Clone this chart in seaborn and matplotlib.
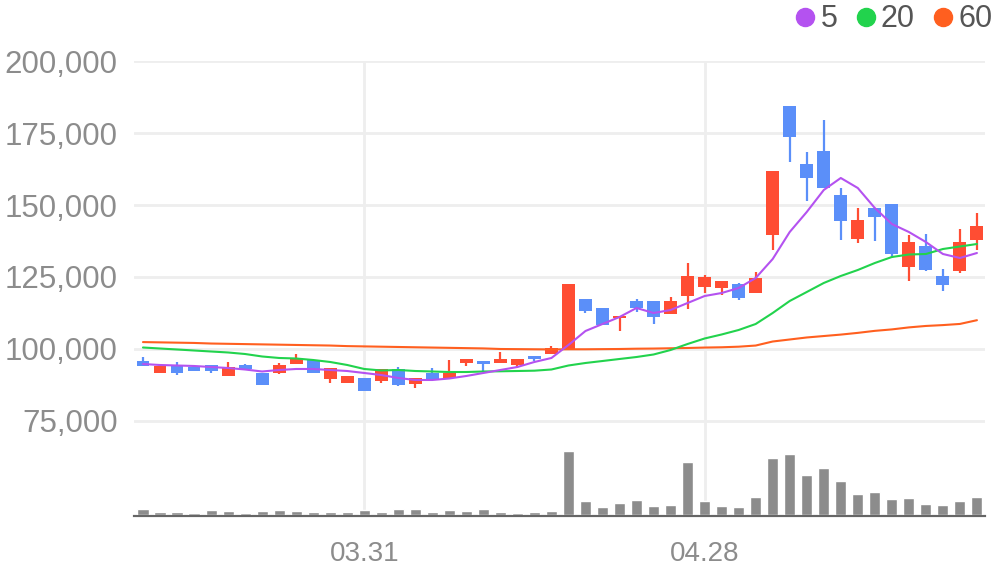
import numpy as np
import pandas as pd
import matplotlib.pyplot as plt
from matplotlib.lines import Line2D
import seaborn as sns

# 50 trading days, tick labels only on 03.31 and 04.28
dates = pd.bdate_range('2025-03-12', periods=50).strftime('%m.%d')

opens = [95840, 91670, 94100, 93750, 94400, 90630, 94400, 91670, 91670, 94800,
         96180, 89580, 88190, 89930, 88890, 93060, 87850, 91670, 89930, 95140,
         95830, 95140, 94400, 97570, 98270, 100000, 117360, 114240, 110760, 116670,
         116670, 112150, 118400, 121530, 121180, 122570, 119440, 139580, 184380, 164240,
         168750, 153470, 138200, 148960, 150350, 128470, 135760, 125350, 127080, 137850]
closes = [94100, 94100, 91670, 92370, 92370, 93750, 93060, 87500, 94400, 96530,
          91670, 93400, 90630, 85420, 93060, 87500, 89930, 89240, 91670, 96530,
          94800, 96530, 96530, 96530, 100350, 122570, 113200, 108330, 111460, 114240,
          111110, 116670, 125350, 125000, 123610, 117710, 124650, 161810, 173610, 159380,
          155900, 144440, 144790, 145830, 132990, 137150, 127430, 122220, 137150, 142710]
highs = [97230, 94400, 95500, 93750, 94400, 95500, 94800, 91670, 95100, 98270,
         96180, 93400, 90630, 89930, 93060, 93750, 89930, 93400, 96180, 96530,
         95830, 98960, 96530, 97570, 101040, 122570, 117360, 114240, 111460, 117360,
         116670, 118060, 129860, 125690, 123610, 122920, 126740, 161810, 184380, 168400,
         179510, 155900, 148960, 148960, 150350, 139580, 139930, 127780, 141670, 147220]
lows = [94100, 91670, 91000, 92370, 91670, 90630, 93060, 87500, 91320, 94800,
        91670, 88190, 88190, 85420, 88190, 87150, 86460, 89240, 89930, 94100,
        92370, 95140, 93400, 95830, 98270, 100000, 112500, 108330, 106250, 112850,
        108680, 112150, 113890, 119440, 118750, 117010, 119440, 134380, 164930, 151390,
        155900, 137850, 136810, 137500, 131600, 123610, 127080, 120140, 126390, 134380]
volumes = [60000, 30000, 30000, 20000, 50000, 40000, 20000, 40000, 50000, 40000,
           30000, 30000, 30000, 50000, 30000, 60000, 60000, 30000, 50000, 40000,
           60000, 30000, 20000, 30000, 40000, 640000, 140000, 80000, 120000, 150000,
           90000, 100000, 530000, 140000, 90000, 80000, 180000, 570000, 610000, 400000,
           470000, 340000, 210000, 230000, 160000, 170000, 110000, 100000, 140000, 180000]

ma5 = [94790, 94440, 94270, 94100, 93750, 93400, 92880, 92190, 92710, 93060,
       93060, 92710, 92360, 91670, 90970, 89930, 89240, 89240, 89760, 90630,
       91670, 92710, 93750, 95490, 96880, 101390, 106250, 108680, 111110, 114240,
       112500, 113540, 115970, 118400, 119440, 121180, 124650, 131250, 140630, 147570,
       155210, 159380, 155900, 148960, 143400, 140630, 137150, 132990, 131600, 133330]
ma20 = [100520, 100170, 99830, 99480, 99130, 98790, 98260, 97400, 96880, 96700,
        96180, 95490, 94450, 93060, 92540, 92710, 92360, 92190, 92010, 92010,
        92190, 92260, 92360, 92470, 92880, 94270, 95140, 95830, 96530, 97220,
        98090, 99650, 101740, 103650, 105040, 106600, 108680, 112500, 116670, 119790,
        122920, 125350, 127430, 129860, 131940, 132810, 132990, 134720, 135590, 136460]
ma60 = [102400, 102300, 102200, 102100, 101900, 101800, 101700, 101600, 101500, 101400,
        101300, 101200, 101000, 100900, 100800, 100700, 100600, 100500, 100400, 100300,
        100200, 100000, 99950, 99900, 99850, 99900, 99900, 99950, 100000, 100100,
        100150, 100250, 100350, 100500, 100600, 100800, 101200, 102600, 103300, 104000,
        104500, 105000, 105600, 106300, 106800, 107500, 108000, 108300, 108700, 110000]

df = pd.DataFrame({'date': dates, 'open': opens, 'close': closes, 'high': highs,
                   'low': lows, 'volume': volumes, 'ma5': ma5, 'ma20': ma20, 'ma60': ma60})
df['x'] = np.arange(len(df))

cor_alta = '#ff4d33'
cor_baixa = '#5b8ff9'
cores_ma = {'5': '#b452f0', '20': '#22d34d', '60': '#ff5f1f'}

sns.set_theme(style='white')
plt.rcParams['font.family'] = ['Liberation Sans', 'DejaVu Sans']

fig = plt.figure(figsize=(9.96, 5.67), dpi=100)
ax = fig.add_axes([0.135, 0.0899, 0.8544, 0.8025])
ax_vol = ax.twinx()

# grade
ax.grid(True, color='#eeeeee', linewidth=2)
ax.set_axisbelow(True)

# volume
sns.barplot(data=df, x='x', y='volume', color='#8c8c8c', saturation=1,
            width=0.65, native_scale=True, ax=ax_vol)
ax_vol.set_ylim(-15000, 4535000)
ax_vol.set_yticks([])
ax_vol.set_ylabel('')

# candles
cores = np.where(df['close'] >= df['open'], cor_alta, cor_baixa)
ax.vlines(df['x'], df['low'], df['high'], colors=cores, linewidth=1.6)
corpo = (df['close'] - df['open']).abs().clip(lower=250)
ax.bar(df['x'], corpo, bottom=df[['open', 'close']].min(axis=1), width=0.76,
       color=cores, linewidth=0)

# medias moveis
for nome, col in [('60', 'ma60'), ('20', 'ma20'), ('5', 'ma5')]:
    sns.lineplot(data=df, x='x', y=col, color=cores_ma[nome], linewidth=1.5, ax=ax)

ax.set_ylim(42000, 200000)
ax.set_xlim(-0.5, len(df) - 0.5)
ax.set_yticks([75000, 100000, 125000, 150000, 175000, 200000])
ax.set_yticklabels([f'{v:,}' for v in [75000, 100000, 125000, 150000, 175000, 200000]])
ticks = [i for i, d in enumerate(df['date']) if d in ('03.31', '04.28')]
ax.set_xticks(ticks)
ax.set_xticklabels([df['date'][i] for i in ticks])
ax.set_xlabel('')
ax.set_ylabel('')
ax_vol.set_xlabel('')

ax.tick_params(axis='y', length=0, pad=12, labelsize=22.5, labelcolor='#8c8c8c')
ax.tick_params(axis='x', length=6, width=2, color='#666666', pad=12,
               labelsize=20, labelcolor='#8c8c8c')
for a in (ax, ax_vol):
    for lado in ['top', 'left', 'right']:
        a.spines[lado].set_visible(False)
    a.spines['bottom'].set_color('#666666')
    a.spines['bottom'].set_linewidth(1.5)

handles = [Line2D([], [], marker='o', linestyle='', color=c, markersize=13, label=n)
           for n, c in cores_ma.items()]
fig.legend(handles=handles, loc='upper right', bbox_to_anchor=(1.024, 1.041), ncol=3,
           frameon=False, handletextpad=0.0, columnspacing=0.42, handlelength=1.0,
           fontsize=22, labelcolor='#555555')

plt.savefig('out.png', dpi=100)
